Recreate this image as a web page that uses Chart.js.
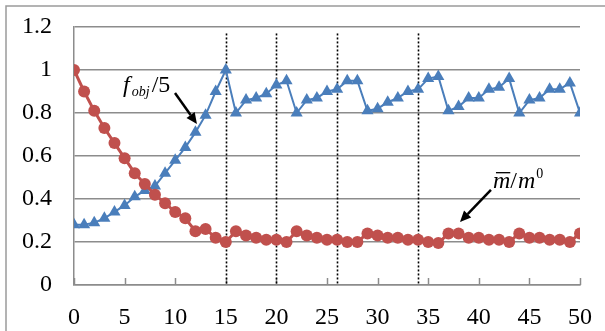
<!DOCTYPE html>
<html>
<head>
<meta charset="utf-8">
<script src="https://cdn.jsdelivr.net/npm/chart.js@4"></script>
<style>
  html, body { margin: 0; padding: 0; background: #fff; }
  #wrap { width: 605px; height: 331px; }
</style>
</head>
<body>
<div id="wrap"><canvas id="chart" width="605" height="331"></canvas></div>
<script>
// --- Data ---
const iterations = Array.from({ length: 51 }, (_, i) => i); // 0..50
const fobjValues = [
    0.28, 0.28, 0.29, 0.31, 0.34, 0.37, 0.41, 0.44, 0.46, 0.52,
    0.58, 0.64, 0.71, 0.79, 0.90, 1.00, 0.80, 0.86, 0.87, 0.89,
    0.93, 0.95, 0.80, 0.86, 0.87, 0.90, 0.91, 0.95, 0.95, 0.81,
    0.82, 0.85, 0.87, 0.90, 0.91, 0.96, 0.97, 0.81, 0.83, 0.87,
    0.87, 0.91, 0.92, 0.96, 0.80, 0.86, 0.87, 0.91, 0.91, 0.94,
    0.80
];
const massValues = [
    1.00, 0.90, 0.81, 0.73, 0.66, 0.59, 0.52, 0.47, 0.42, 0.38,
    0.34, 0.31, 0.25, 0.26, 0.22, 0.20, 0.25, 0.23, 0.22, 0.21,
    0.21, 0.20, 0.25, 0.23, 0.22, 0.21, 0.21, 0.20, 0.20, 0.24,
    0.23, 0.22, 0.22, 0.21, 0.21, 0.20, 0.195, 0.24, 0.24, 0.22,
    0.22, 0.21, 0.21, 0.20, 0.24, 0.22, 0.22, 0.21, 0.21, 0.20,
    0.24
];
const dottedAt = [15, 20, 26, 34];   // vertical dotted markers
const xTicks = [0, 5, 10, 15, 20, 25, 30, 35, 40, 45, 50];
const yTicks = [0, 0.2, 0.4, 0.6, 0.8, 1, 1.2];

const BLUE = '#4a7ebb';
const RED = '#c0504d';
const GRID = '#8c8c8c';
const SERIF = '"Liberation Serif", "Times New Roman", serif';

// --- Extras: frame, inner x ticks, dotted lines, labels with arrows ---
function arrow(ctx, x1, y1, x2, y2) {
    const a = Math.atan2(y2 - y1, x2 - x1);
    const head = 11, half = 5;
    const bx = x2 - head * Math.cos(a), by = y2 - head * Math.sin(a);
    ctx.beginPath();
    ctx.moveTo(x1, y1);
    ctx.lineTo(bx, by);
    ctx.strokeStyle = '#000';
    ctx.lineWidth = 2.5;
    ctx.stroke();
    ctx.beginPath();
    ctx.moveTo(x2, y2);
    ctx.lineTo(bx + half * Math.sin(a), by - half * Math.cos(a));
    ctx.lineTo(bx - half * Math.sin(a), by + half * Math.cos(a));
    ctx.closePath();
    ctx.fillStyle = '#000';
    ctx.fill();
}

const extras = {
    id: 'extras',
    beforeDraw(chart) {
        const ctx = chart.ctx;
        ctx.save();
        ctx.strokeStyle = '#9a9a9a';
        ctx.lineWidth = 1.5;
        ctx.strokeRect(6, 6, 640, 400);
        ctx.restore();
    },
    beforeDatasetsDraw(chart) {
        const { ctx, scales: { x, y } } = chart;
        ctx.save();
        // small tick marks pointing up into the plot
        ctx.strokeStyle = GRID;
        ctx.lineWidth = 1.5;
        xTicks.forEach(v => {
            const px = Math.round(x.getPixelForValue(v)) + 0.5;
            ctx.beginPath();
            ctx.moveTo(px, y.bottom);
            ctx.lineTo(px, y.bottom - 7);
            ctx.stroke();
        });
        // dotted vertical lines
        ctx.strokeStyle = '#000';
        ctx.lineWidth = 1.6;
        ctx.setLineDash([2, 2]);
        dottedAt.forEach(v => {
            const px = Math.round(x.getPixelForValue(v)) + 0.5;
            ctx.beginPath();
            ctx.moveTo(px, y.getPixelForValue(1.17));
            ctx.lineTo(px, y.bottom);
            ctx.stroke();
        });
        ctx.restore();
    },
    afterDatasetsDraw(chart) {
        const { ctx, scales: { x, y } } = chart;
        ctx.save();
        ctx.fillStyle = '#000';
        ctx.textBaseline = 'alphabetic';

        // f_obj / 5
        let px = x.getPixelForValue(4.85), py = y.getPixelForValue(0.898);
        ctx.font = 'italic 24px ' + SERIF;
        ctx.fillText('f', px, py);
        px += ctx.measureText('f').width + 2;
        ctx.font = 'italic 14px ' + SERIF;
        ctx.fillText('obj', px, py + 4);
        px += ctx.measureText('obj').width + 2;
        ctx.font = '24px ' + SERIF;
        ctx.fillText('/5', px, py);
        arrow(ctx, x.getPixelForValue(9.98), y.getPixelForValue(0.893),
                   x.getPixelForValue(12.15), y.getPixelForValue(0.749));

        // m-bar / m^0
        px = x.getPixelForValue(41.4); py = y.getPixelForValue(0.451);
        ctx.font = 'italic 24px ' + SERIF;
        const mw = ctx.measureText('m').width;
        ctx.fillText('m', px, py);
        ctx.fillRect(px + 3, py - 16, mw - 3, 1.3);
        px += mw;
        ctx.font = '24px ' + SERIF;
        ctx.fillText('/', px, py);
        px += ctx.measureText('/').width + 1;
        ctx.font = 'italic 24px ' + SERIF;
        ctx.fillText('m', px, py);
        px += mw + 1;
        ctx.font = '14px ' + SERIF;
        ctx.fillText('0', px, py - 10);
        arrow(ctx, x.getPixelForValue(41.2), y.getPixelForValue(0.442),
                   x.getPixelForValue(38.14), y.getPixelForValue(0.293));
        ctx.restore();
    }
};

new Chart(document.getElementById('chart'), {
    type: 'line',
    data: {
        labels: iterations,
        datasets: [
            {
                label: 'm/m0',
                data: massValues,
                borderColor: RED,
                backgroundColor: RED,
                borderWidth: 3,
                pointStyle: 'circle',
                pointRadius: 6,
                pointBorderWidth: 0,
                tension: 0
            },
            {
                label: 'fobj/5',
                data: fobjValues,
                borderColor: BLUE,
                backgroundColor: BLUE,
                borderWidth: 2,
                pointStyle: 'triangle',
                pointRadius: 7,
                pointBorderWidth: 0,
                tension: 0
            }
        ]
    },
    options: {
        responsive: false,
        animation: false,
        layout: { autoPadding: false, padding: { top: 27, right: 25, left: 0, bottom: 0 } },
        plugins: { legend: { display: false }, tooltip: { enabled: false } },
        scales: {
            x: {
                type: 'linear',
                min: 0,
                max: 50,
                afterFit: s => { s.height = 46; s.paddingLeft = 0; s.paddingRight = 0; },
                afterBuildTicks: s => { s.ticks = xTicks.map(v => ({ value: v })); },
                grid: { drawOnChartArea: false, drawTicks: false },
                border: { color: GRID, width: 1.5 },
                ticks: { color: '#000', padding: 18, maxRotation: 0, font: { family: SERIF, size: 24 } }
            },
            y: {
                min: 0,
                max: 1.2,
                afterFit: s => { s.width = 74; s.paddingTop = 0; s.paddingBottom = 0; },
                afterBuildTicks: s => { s.ticks = yTicks.map(v => ({ value: v })); },
                grid: { color: GRID, lineWidth: 1.5, drawTicks: false },
                border: { color: GRID, width: 1.5 },
                ticks: {
                    color: '#000',
                    padding: 22,
                    font: { family: SERIF, size: 24 },
                    callback: v => String(Math.round(v * 10) / 10)
                }
            }
        }
    },
    plugins: [extras]
});
</script>
</body>
</html>
